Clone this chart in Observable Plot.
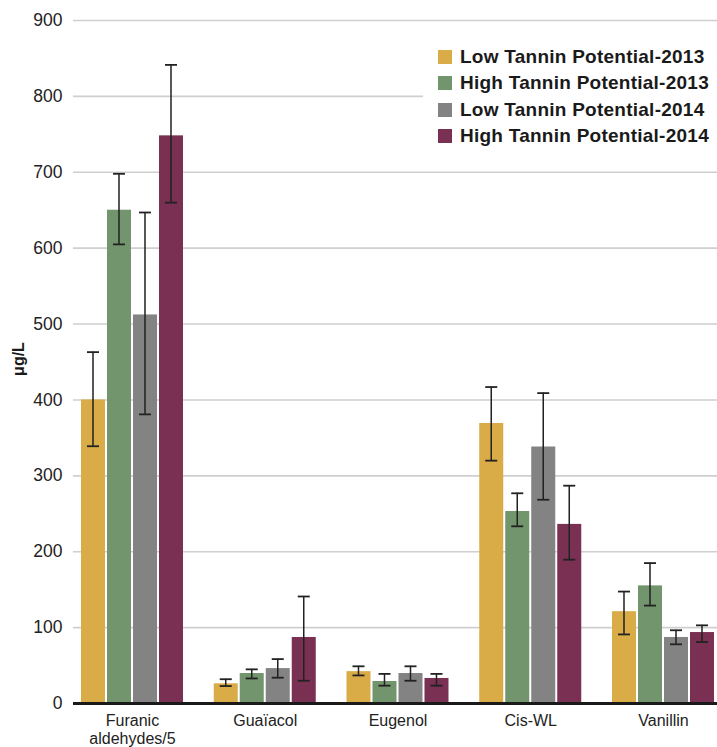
<!DOCTYPE html>
<html>
<head>
<meta charset="utf-8">
<script src="https://cdn.jsdelivr.net/npm/d3@7"></script>
<script src="https://cdn.jsdelivr.net/npm/@observablehq/plot@0.6"></script>
<style>
  html, body { margin: 0; padding: 0; background: #fff; }
  #wrap { position: relative; width: 717px; height: 747px; font-family: "Liberation Sans", Arial, Helvetica, sans-serif; }
  #legend { position: absolute; left: 423px; top: 27px; width: 294px; height: 138px; background: #fff; box-sizing: border-box; padding-top: 17px; }
  .item { display: flex; align-items: center; height: 26.3px; }
  .sw { width: 14px; height: 14px; margin-left: 15px; margin-right: 8px; flex: none; }
  .lab { font-weight: bold; font-size: 19px; letter-spacing: 0.25px; color: #1a1a1a; white-space: nowrap; }
</style>
</head>
<body>
<div id="wrap"><div id="chart"></div><div id="legend"></div></div>
<script>
const categories = ["Furanic\naldehydes/5", "Guaïacol", "Eugenol", "Cis-WL", "Vanillin"];
const seriesNames = ["Low Tannin Potential-2013", "High Tannin Potential-2013", "Low Tannin Potential-2014", "High Tannin Potential-2014"];
const seriesColors = ["#DAAC48", "#72956D", "#838384", "#7A3053"];

// mean values per series (one per category)
const lowTannin2013  = [400, 26, 42, 369, 121];
const highTannin2013 = [650, 39.5, 29, 253, 155];
const lowTannin2014  = [512, 46, 39.5, 338, 87];
const highTannin2014 = [748, 87, 33, 236, 93.5];

// error bar bounds per series
const lowTannin2013Lo  = [339, 23, 37, 320, 91];
const lowTannin2013Hi  = [463, 32, 49, 417, 147.5];
const highTannin2013Lo = [605, 33, 23.5, 233.5, 129];
const highTannin2013Hi = [698, 45, 39, 277, 185];
const lowTannin2014Lo  = [381, 34, 30, 268.5, 78];
const lowTannin2014Hi  = [647, 58.5, 49, 409, 96.5];
const highTannin2014Lo = [660, 30, 23.5, 189.5, 81];
const highTannin2014Hi = [841.5, 141, 39, 287, 103];

const yTicks = [0, 100, 200, 300, 400, 500, 600, 700, 800, 900];

const seriesValues = [lowTannin2013, highTannin2013, lowTannin2014, highTannin2014];
const seriesLo = [lowTannin2013Lo, highTannin2013Lo, lowTannin2014Lo, highTannin2014Lo];
const seriesHi = [lowTannin2013Hi, highTannin2013Hi, lowTannin2014Hi, highTannin2014Hi];

const rows = [];
seriesNames.forEach((s, i) => categories.forEach((c, j) => rows.push({
  series: s, si: i, cat: c, value: seriesValues[i][j], lo: seriesLo[i][j], hi: seriesHi[i][j]
})));

const BW = 102, BAR = 24, STEP = 26, CAP = 12, LW = 1.5;
const marks = [
  Plot.gridY(yTicks, {stroke: "#cfcfcf", strokeOpacity: 1, strokeWidth: 1.6}),
];
seriesNames.forEach((s, i) => {
  const data = rows.filter(d => d.si === i);
  const left = i * STEP;
  marks.push(Plot.barY(data, {x: "cat", y: "value", fill: seriesColors[i], insetLeft: left, insetRight: BW - BAR - left}));
});
seriesNames.forEach((s, i) => {
  const data = rows.filter(d => d.si === i);
  const c = i * STEP + BAR / 2;
  marks.push(Plot.barY(data, {x: "cat", y1: "lo", y2: "hi", fill: "#222", insetLeft: c - LW / 2, insetRight: BW - c - LW / 2}));
  marks.push(Plot.tickY(data, {x: "cat", y: "lo", stroke: "#222", strokeWidth: 1.8, insetLeft: c - CAP / 2, insetRight: BW - c - CAP / 2}));
  marks.push(Plot.tickY(data, {x: "cat", y: "hi", stroke: "#222", strokeWidth: 1.8, insetLeft: c - CAP / 2, insetRight: BW - c - CAP / 2}));
});
marks.push(Plot.ruleY([0], {stroke: "#1a1a1a", strokeWidth: 3.2}));
marks.push(Plot.axisY(yTicks, {tickSize: 0, tickPadding: 11, fontSize: 17.5, fill: "#222", label: null}));
marks.push(Plot.axisX({tickSize: 0, tickPadding: 10, fontSize: 16, fill: "#222", label: null, lineHeight: 1.1}));
marks.push(Plot.text(["μg/L"], {frameAnchor: "left", textAnchor: "middle", dx: -55, dy: -3, rotate: -90, fontSize: 16, fontWeight: "bold", fill: "#1a1a1a"}));

const chart = Plot.plot({
  width: 717,
  height: 747,
  marginTop: 20,
  marginBottom: 44,
  marginLeft: 73,
  marginRight: 0,
  style: {fontFamily: '"Liberation Sans", Arial, Helvetica, sans-serif', background: "#fff", overflow: "visible"},
  x: {domain: categories, paddingInner: 0.2316, paddingOuter: 0.0414, align: 0.727, round: false, label: null},
  y: {domain: [0, 900], label: null},
  marks
});
document.getElementById("chart").appendChild(chart);

const legend = document.getElementById("legend");
seriesNames.forEach((s, i) => {
  const it = document.createElement("div");
  it.className = "item";
  const sw = document.createElement("div");
  sw.className = "sw";
  sw.style.background = seriesColors[i];
  const lab = document.createElement("div");
  lab.className = "lab";
  lab.textContent = s;
  it.appendChild(sw); it.appendChild(lab);
  legend.appendChild(it);
});
</script>
</body>
</html>
